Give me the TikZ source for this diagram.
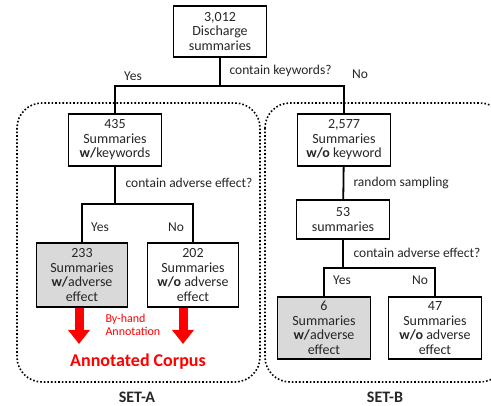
\documentclass[tikz,border=0pt]{standalone}
\usepackage{fontspec}
\setmainfont{Carlito}
\usetikzlibrary{arrows.meta,positioning}
\tikzset{
	box/.style={draw, line width=1.8pt, align=center, inner sep=1pt, minimum width=93pt, text=black!85, font=\fontsize{14}{14.5}\selectfont},
	greybox/.style={box, fill=black!15},
	lbl/.style={text=black!85, font=\fontsize{13.5}{15}\selectfont},
	setline/.style={dotted, line width=1.6pt, rounded corners=25pt},
	redarrow/.style={red, line width=9pt, -{Triangle[width=21pt,length=14pt]}},
}
\begin{document}
\begin{tikzpicture}[x=1pt,y=-1pt]
	\useasboundingbox (0,0) rectangle (491,406);
	\draw [setline] (17,103) rectangle (260,382);
	\draw [setline] (265,103) rectangle (505,382);
	\node[box, minimum height=51pt] (all) at (220,31.5){3,012\\Discharge\\summaries};
	\node[box, minimum height=52pt] (kw) at (115,140){435\\Summaries\\\textbf{w/}keywords};
	\node[box, minimum height=52pt] (nokw) at (344,140){2,577\\Summaries\\\textbf{w/o} keyword};
	\node[box, minimum height=39pt] (sample) at (343,219.5){53\\summaries};
	\node[greybox, minimum height=64pt, minimum width=91pt] (kwae) at (82,275){233\\Summaries\\\textbf{w/}adverse\\effect};
	\node[box, minimum height=64pt, minimum width=91pt] (kwnoae) at (193,275){202\\Summaries\\\textbf{w/o} adverse\\effect};
	\node[greybox, minimum height=62pt] (sampleae) at (324,328){6\\Summaries\\\textbf{w/}adverse\\effect};
	\node[box, minimum height=62pt] (samplenoae) at (435,328){47\\Summaries\\\textbf{w/o} adverse\\effect};
	% splits
	\coordinate (s1) at (220,86);
	\coordinate (s2) at (115,204);
	\coordinate (s3) at (343,268);
	\draw [line width=1.8pt] (all) -- (s1) (kw.north) |- (s1) -| (nokw.north);
	\draw [line width=1.8pt] (kw) -- (s2) (kwae.north) |- (s2) -| (kwnoae.north);
	\draw [line width=1.8pt] (nokw) -- (sample);
	\draw [line width=1.8pt] (sample) -- (s3) (sampleae.north) |- (s3) -| (samplenoae.north);
	\node[lbl] (yes1) at (133,76){Yes};
	\node[lbl, anchor=west] (q1) at (226,71){contain keywords?};
	\node[lbl] (no1) at (360,74){No};
	\node[lbl, anchor=west] (q2) at (122,183){contain adverse effect?};
	\node[lbl, anchor=west] (rs) at (350,183){random sampling};
	\node[lbl] (yes2) at (100,227){Yes};
	\node[lbl] (no2) at (176,227){No};
	\node[lbl, anchor=west] (q3) at (350,253){contain adverse effect?};
	\node[lbl] (yes3) at (342,280){Yes};
	\node[lbl] (no3) at (420,280){No};
	% annotation
	\coordinate (a1) at (79,344);
	\coordinate (a2) at (183,344);
	\draw [redarrow] ([xshift=-3pt]kwae.south) -- (a1);
	\draw [redarrow] ([xshift=-10pt]kwnoae.south) -- (a2);
	\node[red, align=left, anchor=west, font=\fontsize{12}{13}\selectfont] (hand) at (102,324.5){By-hand\\Annotation};
	\node[red, font=\bfseries\fontsize{18}{20}\selectfont] (corpus) at (138,362){Annotated Corpus};
	\node[text=black!85, font=\bfseries\fontsize{16}{18}\selectfont] (seta) at (137,397){SET-A};
	\node[text=black!85, font=\bfseries\fontsize{16}{18}\selectfont] (setb) at (385,397){SET-B};
\end{tikzpicture}
\end{document}
